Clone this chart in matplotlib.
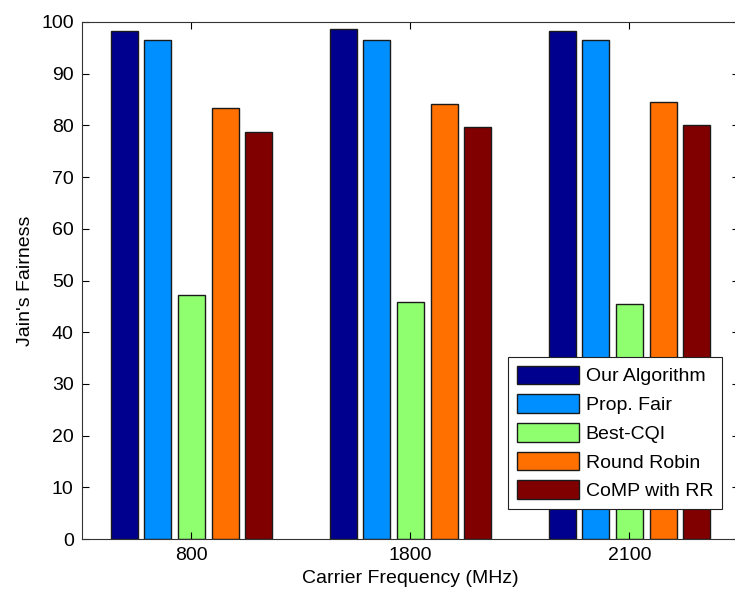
import numpy as np
import matplotlib.pyplot as plt

plt.rcParams['font.family'] = ['Liberation Sans', 'DejaVu Sans']

# data
freqs = ['800', '1800', '2100']
series = ['Our Algorithm', 'Prop. Fair', 'Best-CQI', 'Round Robin', 'CoMP with RR']
our_alg = [98.3, 98.6, 98.3]
prop_fair = [96.5, 96.5, 96.5]
best_cqi = [47.1, 45.8, 45.5]
round_robin = [83.3, 84.2, 84.6]
comp_rr = [78.7, 79.6, 80.1]
colors = ['#00008f', '#008fff', '#8fff70', '#ff7000', '#800000']

values = [our_alg, prop_fair, best_cqi, round_robin, comp_rr]

fig = plt.figure(figsize=(7.35, 5.95), dpi=100)
ax = fig.add_axes([82/735, 56/595, 657/735, 517/595])

x = np.arange(1, len(freqs) + 1)
n = len(series)
group_w = min(0.8, n / (n + 1.5))
step = group_w / n
for i, (vals, name) in enumerate(zip(values, series)):
    off = (i - (n - 1) / 2) * step
    ax.bar(x + off, vals, width=step * 0.8, color=colors[i], edgecolor='#1a1a1a',
           linewidth=1.0, label=name)

ax.set_xlim(0.5, 3.5)
ax.set_ylim(0, 100)
ax.set_xticks(x)
ax.set_xticklabels(freqs)
ax.set_yticks(np.arange(0, 101, 10))
ax.tick_params(direction='in', top=True, right=True, length=5, width=0.8,
               labelsize=14, pad=6)
for s in ax.spines.values():
    s.set_linewidth(0.8)
    s.set_color('#333333')

ax.set_xlabel('Carrier Frequency (MHz)', fontsize=14, labelpad=4)
ax.set_ylabel("Jain's Fairness", fontsize=14, labelpad=5)

leg = ax.legend(loc='lower left', bbox_to_anchor=(508/735, 86/595),
                bbox_transform=fig.transFigure, fontsize=14, frameon=True,
                fancybox=False, edgecolor='#222222', framealpha=1,
                handlelength=3.2, handleheight=1.1, labelspacing=0.45,
                handletextpad=0.35, borderpad=0.45, borderaxespad=0)
leg.get_frame().set_linewidth(0.8)

fig.savefig('out.png', dpi=100)
